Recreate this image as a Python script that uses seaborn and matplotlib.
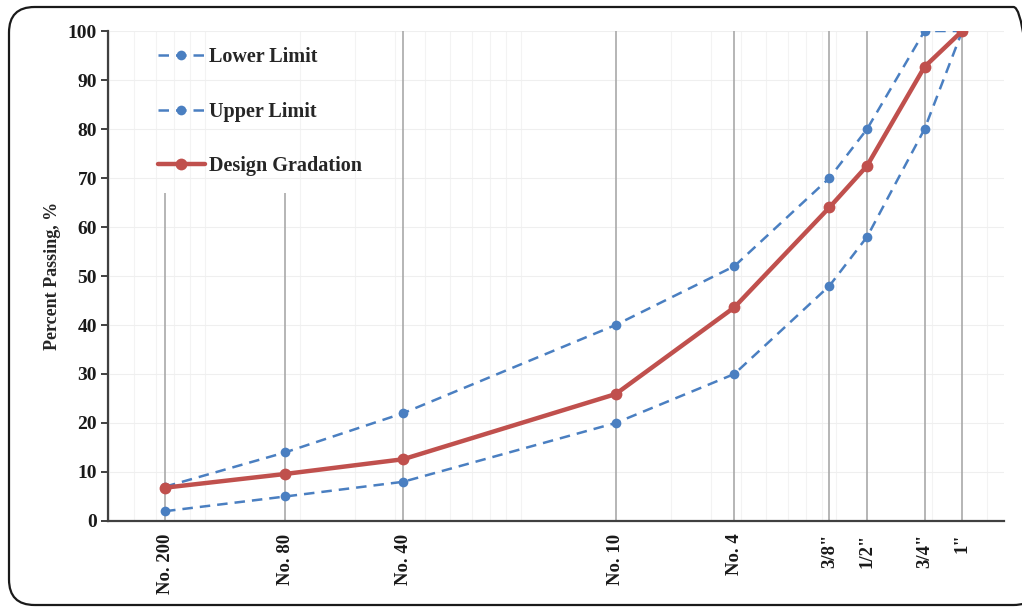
import numpy as np
import pandas as pd
import matplotlib
matplotlib.use("Agg")
import matplotlib.pyplot as plt
from matplotlib.patches import FancyBboxPatch
from matplotlib.ticker import LogLocator, NullFormatter, MultipleLocator
import seaborn as sns

# Sieve designations and their opening sizes (mm)
sieves = ["No. 200", "No. 80", "No. 40", "No. 10", "No. 4", '3/8"', '1/2"', '3/4"', '1"']
sizes_mm = [0.075, 0.18, 0.425, 2.0, 4.75, 9.5, 12.5, 19.0, 25.0]

# Percent passing for each sieve
lower_limit = [2, 5, 8, 20, 30, 48, 58, 80, 100]
upper_limit = [7, 14, 22, 40, 52, 70, 80, 100, 100]
design_gradation = [6.8, 9.6, 12.6, 25.9, 43.6, 64.0, 72.5, 92.7, 100]

# Top of each sieve drop line (shortened below the legend on the fine sieves)
drop_top = [67, 67, 100, 100, 100, 100, 100, 100, 100]

df = pd.DataFrame({
    "size": sizes_mm * 3,
    "passing": lower_limit + upper_limit + design_gradation,
    "series": ["Lower Limit"] * 9 + ["Upper Limit"] * 9 + ["Design Gradation"] * 9,
})

sns.set_theme(style="ticks")
plt.rcParams["font.family"] = ["Liberation Serif", "DejaVu Serif"]
plt.rcParams["font.weight"] = "bold"
plt.rcParams["ytick.labelcolor"] = "#1a1a1a"
plt.rcParams["xtick.labelcolor"] = "#1a1a1a"

BLUE = "#4a7fc1"
RED = "#c0504d"

fig = plt.figure(figsize=(10.22, 6.08), dpi=100)
ax = fig.add_axes([0.1057, 0.1431, 0.8767, 0.8059])

# rounded frame around the figure
frame = FancyBboxPatch((9 / 1022, 3 / 608), 1030 / 1022, 598 / 608,
                       boxstyle="round,pad=0,rounding_size=0.025",
                       transform=fig.transFigure, fill=False,
                       edgecolor="#1a1a1a", linewidth=1.6, zorder=0,
                       mutation_aspect=1022 / 608)
fig.patches.append(frame)

ax.set_xscale("log")
ax.set_xlim(0.0495, 33.9)
ax.set_ylim(0, 100)

# faint grid
ax.xaxis.set_minor_locator(LogLocator(base=10, subs=np.arange(1, 10)))
ax.xaxis.set_minor_formatter(NullFormatter())
ax.grid(which="minor", axis="x", color="#f3f3f3", linewidth=0.8, zorder=0)
ax.grid(which="major", axis="y", color="#efefef", linewidth=0.8, zorder=0)
ax.grid(which="major", axis="x", visible=False)

# sieve drop lines
ax.vlines(sizes_mm, 0, drop_top, color="#a9a9a9", linewidth=1.2, zorder=1)

palette = {"Lower Limit": BLUE, "Upper Limit": BLUE, "Design Gradation": RED}
for name, lw, ms, dash in [("Lower Limit", 1.8, 7, (4.2, 2.8)),
                           ("Upper Limit", 1.8, 7, (4.2, 2.8)),
                           ("Design Gradation", 3.2, 8.5, None)]:
    sub = df[df["series"] == name]
    kw = dict(dashes=dash) if dash else {}
    sns.lineplot(data=sub, x="size", y="passing", ax=ax, color=palette[name],
                 linewidth=lw, marker="o", markersize=ms, markeredgewidth=0,
                 label=name, zorder=3, **kw)
    if dash:
        ax.lines[-1].set_dashes(dash)

ax.set_xticks(sizes_mm)
ax.set_xticklabels(sieves, rotation=90, fontsize=13.5, fontweight="bold")
ax.tick_params(axis="x", which="both", length=0, pad=9)
ax.yaxis.set_major_locator(MultipleLocator(10))
ax.yaxis.set_ticks_position("left")
ax.tick_params(axis="y", which="major", left=True, length=5, width=1.4,
               direction="out", color="#404040", labelsize=14, pad=3)
ax.tick_params(axis="y", which="minor", left=False)
for lbl in ax.get_yticklabels():
    lbl.set_fontweight("bold")

ax.set_xlabel("")
ax.set_ylabel("Percent Passing, %", fontsize=13, fontweight="bold", labelpad=5)

for side in ["top", "right"]:
    ax.spines[side].set_visible(False)
for side in ["left", "bottom"]:
    ax.spines[side].set_color("#404040")
    ax.spines[side].set_linewidth(1.6)

leg = ax.legend(loc="upper left", bbox_to_anchor=(0.035, 1.004), frameon=False,
                prop={"family": "Liberation Serif", "weight": "bold", "size": 14.5},
                handlelength=2.35, handletextpad=0.2, labelspacing=1.72, numpoints=1)

fig.savefig("out.png", dpi=100, facecolor="white")
